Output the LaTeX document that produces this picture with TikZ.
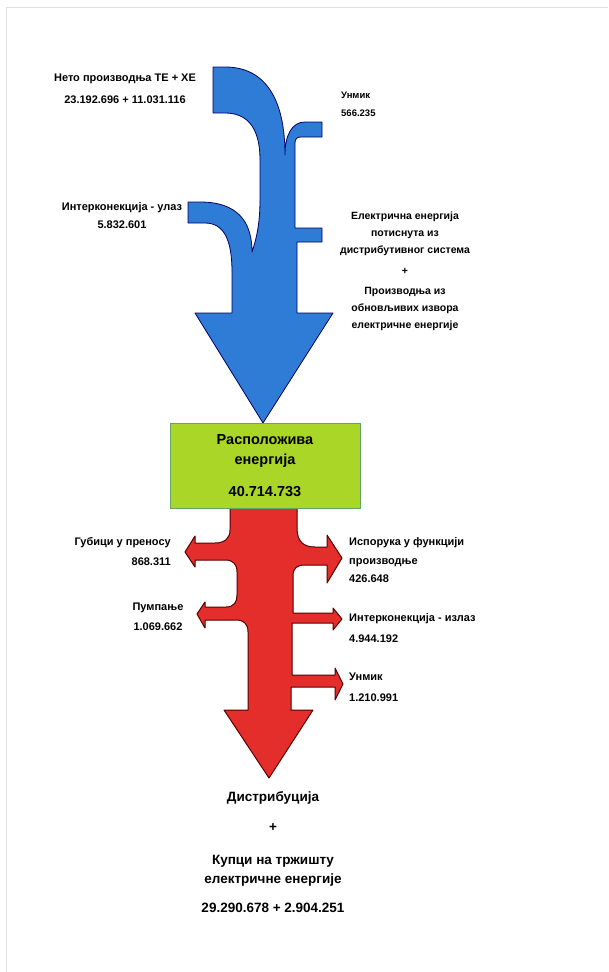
\documentclass[tikz,border=0pt]{standalone}
\usepackage{fontspec}
\setmainfont{Liberation Sans}
\usetikzlibrary{positioning, calc}
\definecolor{inblue}{RGB}{46,124,214}
\definecolor{outred}{RGB}{228,46,44}
\definecolor{boxgreen}{RGB}{170,214,40}
\tikzset{%
  inflow/.style   = {fill = inblue, draw = blue!40!black, line width = 0.8pt,
    line join = round},
  outflow/.style  = {fill = outred, draw = red!35!black, line width = 1pt,
    line join = round},
  sumbox/.style   = {draw = green!40!black!60, fill = boxgreen, rectangle,
    minimum width = 190pt, minimum height = 85pt, align = center,
    font = \bfseries\fontsize{14.5}{20}\selectfont}, % Available energy
  lbltext/.style  = {inner sep = 0pt, align = center,
    font = \bfseries\fontsize{11}{20}\selectfont} % Flow labels
}
\begin{document}
\begin{tikzpicture}[x = 1pt, y = -1pt]
\useasboundingbox (0,0) rectangle (608,972);
%page frame
\draw[gray!25, line width = 1pt] (6,972) -- (6,7) -- (608,7);
%inflow shape
\draw[inflow]
	(213,67) -- (225,67) .. controls (266,67) and (285,100) .. (285,155)
	.. controls (285,135) and (292,122) .. (305,122) -- (322,122) -- (322,137)
	-- (301,137) .. controls (297,137) and (295,139) .. (295,143) -- (295,228)
	-- (322,228) -- (322,242) -- (297,242) -- (297,313) -- (333,313)
	-- (263,423) -- (195,313) -- (232,313) -- (232,272)
	.. controls (232,240) and (224,223) .. (205,223) -- (188,223) -- (188,202)
	-- (200,202) .. controls (236,202) and (252,220) .. (252,252)
	.. controls (256,240) and (260,225) .. (260,200) -- (260,160)
	.. controls (260,126) and (246,113) .. (225,113) -- (213,113) -- cycle;
%outflow shape
\draw[outflow]
	(230,508) -- (297,508) -- (297,528)
	.. controls (297,542) and (304,547) .. (315,547) -- (327,547) -- (327,535)
	-- (342,558) -- (327,583) -- (327,565) -- (305,565)
	.. controls (297,565) and (293,568) .. (293,576) -- (293,613) -- (333,613)
	-- (333,608) -- (342,619) -- (333,630) -- (333,623) -- (292,623)
	-- (292,675) -- (335,675) -- (335,668) -- (343,684) -- (335,700)
	-- (335,687) -- (291,687) -- (291,710) -- (313,710) -- (269,778)
	-- (224,710) -- (248,710) -- (248,632)
	.. controls (248,624) and (244,620) .. (236,620) -- (205,620) -- (205,628)
	-- (197,614) -- (205,602) -- (205,607) -- (226,607)
	.. controls (234,607) and (237,602) .. (237,595) -- (237,572)
	.. controls (237,564) and (233,560) .. (225,560) -- (195,560) -- (195,567)
	-- (185,552) -- (195,536) -- (195,543) -- (215,543)
	.. controls (225,543) and (230,538) .. (230,530) -- cycle;
%available energy
\node[sumbox] (avail) at (265,465.5)
	{Расположива\\енергија\\[12pt]40.714.733};
%inflow labels
\node[lbltext, font = \bfseries\fontsize{11}{22}\selectfont] (prodin) at (125,89)
	{Нето производња ТЕ + ХЕ\\23.192.696 + 11.031.116};
\node[lbltext, align = left, anchor = west, font = \bfseries\fontsize{9.5}{18}\selectfont]
	(unmikin) at (341,104) {Унмик\\566.235};
\node[lbltext, font = \bfseries\fontsize{11}{18}\selectfont] (icin) at (122,216)
	{Интерконекција - улаз\\5.832.601};
\node[lbltext, font = \bfseries\fontsize{10.5}{17}\selectfont] (distin) at (405,271.5)
	{Електрична енергија\\потиснута из\\дистрибутивног система\\[4pt]+\\[3pt]
	Производња из\\обновљивих извора\\електричне енергије};
%outflow labels
\node[lbltext, align = right, anchor = east] (losses) at (171,552)
	{Губици у преносу\\868.311};
\node[lbltext] (pump) at (158,617) {Пумпање\\1.069.662};
\node[lbltext, align = left, anchor = west, font = \bfseries\fontsize{11}{18.5}\selectfont]
	(supply) at (349,560.5) {Испорука у функцији\\производње\\426.648};
\node[lbltext, align = left, anchor = west, font = \bfseries\fontsize{11}{21}\selectfont]
	(icout) at (349,628.5) {Интерконекција - излаз\\4.944.192};
\node[lbltext, align = left, anchor = west, font = \bfseries\fontsize{11}{21}\selectfont]
	(unmikout) at (349,687.5) {Унмик\\1.210.991};
\node[lbltext, font = \bfseries\fontsize{13.5}{19}\selectfont] (distout) at (273,852)
	{Дистрибуција\\[11pt]+\\[14pt]Купци на тржишту\\електричне енергије\\[10pt]
	29.290.678 + 2.904.251};
\end{tikzpicture}
\end{document}
